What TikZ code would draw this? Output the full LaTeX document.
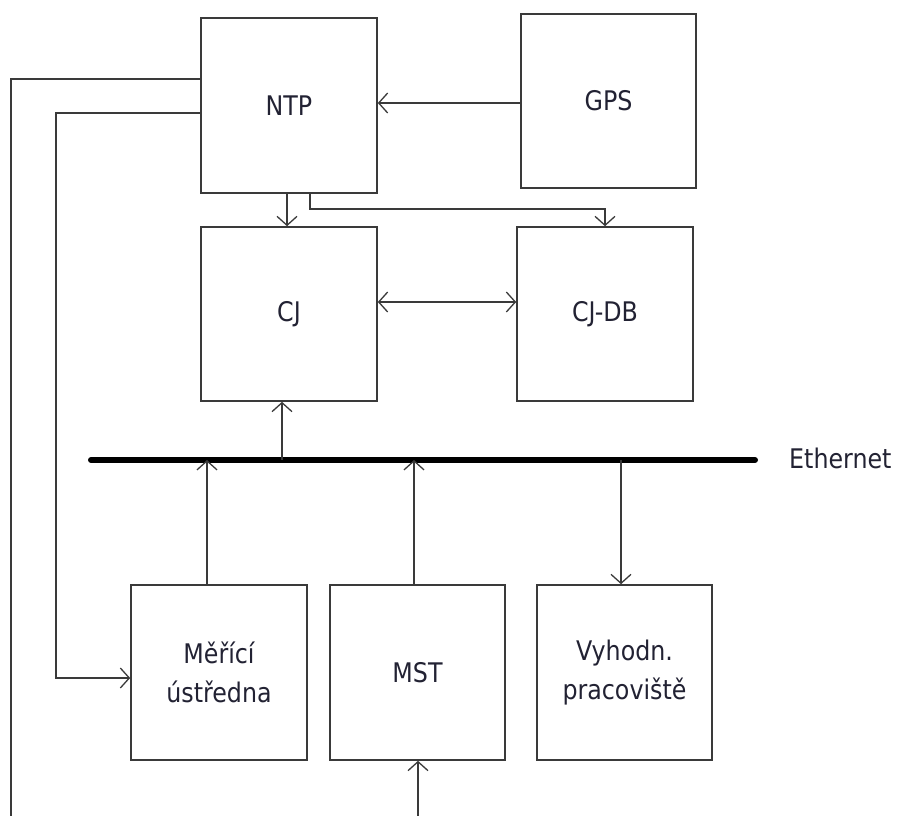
\documentclass[tikz,border=0pt]{standalone}
\usepackage{fontspec}
\setmainfont{DejaVu Sans}[FakeStretch=0.88]
\usetikzlibrary{arrows.meta}
\definecolor{ln}{HTML}{3A3A3A}
\definecolor{tx}{HTML}{222233}
\tikzset{
  box/.style={draw=ln, line width=1.6pt, minimum width=#1, minimum height=175pt, inner sep=0pt,
    text=tx, font=\fontsize{27pt}{39pt}\selectfont, align=center},
  box/.default=176pt,
  conn/.style={draw=ln, line width=1.4pt},
  >={Straight Barb[length=9pt,width=20pt,line width=1.3pt]},
  bus/.style={draw=black, line width=6pt, line cap=round}
}
\begin{document}
\begin{tikzpicture}[x=1pt,y=-1pt]
\useasboundingbox (0,0) rectangle (898,816);
% boxes
\node[box] (ntp) at (289,105.5) {NTP};
\node[box=175pt, minimum height=174pt] (gps) at (608.5,101) {GPS};
\node[box, minimum height=174pt] (cj) at (289,314) {CJ};
\node[box, minimum height=174pt] (cjdb) at (605,314) {CJ-DB};
\node[box] (mu) at (219,672.5) {Měřící\\ústředna};
\node[box=175pt] (mst) at (417.5,672.5) {MST};
\node[box=175pt] (vp) at (624.5,672.5) {Vyhodn.\\pracoviště};
% bus
\coordinate (busL) at (91,460);
\coordinate (busR) at (755,460);
\draw[bus] (busL) -- (busR);
\node[anchor=west, inner sep=0pt, text=tx, font=\fontsize{27pt}{30pt}\selectfont] (eth) at (789,458) {Ethernet};
% free ends
\coordinate (c1) at (11,816);
\coordinate (c2) at (56,400);
\coordinate (c3) at (418,816);
\coordinate (b1) at (282,460);
% connectors
\draw[conn,->] (gps.west |- 0,103) -- (ntp.east |- 0,103);
\draw[conn,->] ([xshift=-2pt]ntp.south) -- ([xshift=-2pt]ntp.south |- cj.north);
\draw[conn,->] ([xshift=21pt]ntp.south) -- ++(0,15) -| (cjdb.north);
\draw[conn,<->] ([yshift=12pt]cj.east) -- ([yshift=12pt]cjdb.west);
\draw[conn,->] (b1) -- (b1 |- cj.south);
\draw[conn,->] ([xshift=-12pt]mu.north) -- ([xshift=-12pt]mu.north |- busL);
\draw[conn,->] ([xshift=-3.5pt]mst.north) -- ([xshift=-3.5pt]mst.north |- busL);
\draw[conn,->] ([xshift=-3.5pt]vp.north |- busL) -- ([xshift=-3.5pt]vp.north);
\draw[conn,->] (c3) -- (c3 |- mst.south);
\draw[conn] ([yshift=26.5pt]ntp.west) -| (c1);
\draw[conn,->] ([yshift=-7.5pt]ntp.west) -| (c2) |- ([yshift=-5.5pt]mu.west);
\end{tikzpicture}
\end{document}
